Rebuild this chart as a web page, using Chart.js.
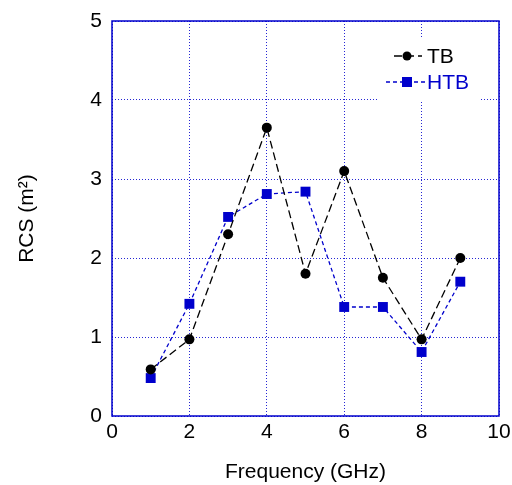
<!DOCTYPE html>
<html>
<head>
<meta charset="utf-8">
<script src="https://cdn.jsdelivr.net/npm/chart.js@4"></script>
<style>
  html, body { margin: 0; padding: 0; background: #fff; }
  #wrap { width: 512px; height: 485px; }
</style>
</head>
<body>
<div id="wrap"><canvas id="rcsChart"></canvas></div>
<script>
// values
const freq = [1, 2, 3, 4, 5, 6, 7, 8, 9];
const tb = [0.59, 0.97, 2.30, 3.65, 1.80, 3.10, 1.75, 0.97, 2.00];
const htb = [0.48, 1.42, 2.52, 2.81, 2.84, 1.38, 1.38, 0.81, 1.70];
const seriesNames = ['TB', 'HTB'];

const blue = 'rgb(0,0,204)';
const font = 'Liberation Sans, Arial, sans-serif';

function points(ys){
    return freq.map((f, i) => ({x: f, y: ys[i]}));
}

// frame round the plot plus the boxed legend in the top right corner
const frameAndLegend = {
    id: 'frameAndLegend',
    afterDraw(chart){
        const ctx = chart.ctx;
        const a = chart.chartArea;
        ctx.save();
        ctx.strokeStyle = blue;
        ctx.lineWidth = 1.5;
        ctx.strokeRect(a.left, a.top, a.right - a.left, a.bottom - a.top);

        ctx.fillStyle = '#fff';
        ctx.fillRect(377, 37, 103, 63);

        ctx.font = '21px ' + font;
        ctx.textBaseline = 'middle';
        // TB
        ctx.strokeStyle = '#000';
        ctx.lineWidth = 1.3;
        ctx.setLineDash([8, 4]);
        ctx.beginPath(); ctx.moveTo(394, 56); ctx.lineTo(422, 56); ctx.stroke();
        ctx.setLineDash([]);
        ctx.fillStyle = '#000';
        ctx.beginPath(); ctx.arc(407, 56, 4.5, 0, Math.PI * 2); ctx.fill();
        ctx.fillText(seriesNames[0], 427, 57);
        // HTB
        ctx.strokeStyle = blue;
        ctx.setLineDash([4, 3]);
        ctx.beginPath(); ctx.moveTo(386, 82); ctx.lineTo(425, 82); ctx.stroke();
        ctx.setLineDash([]);
        ctx.fillStyle = blue;
        ctx.fillRect(402, 77, 10, 10);
        ctx.fillText(seriesNames[1], 427, 83);
        ctx.restore();
    }
};

new Chart(document.getElementById('rcsChart'), {
    type: 'scatter',
    data: {
        datasets: [{
            label: seriesNames[0],
            data: points(tb),
            showLine: true,
            borderColor: '#000',
            backgroundColor: '#000',
            borderWidth: 1.3,
            borderDash: [8, 4],
            pointStyle: 'circle',
            pointRadius: 5,
            pointBorderWidth: 0,
        }, {
            label: seriesNames[1],
            data: points(htb),
            showLine: true,
            borderColor: blue,
            backgroundColor: blue,
            borderWidth: 1.3,
            borderDash: [4, 3],
            pointStyle: 'rect',
            pointRadius: 7,
            pointBorderWidth: 0,
        }]
    },
    options: {
        responsive: true,
        maintainAspectRatio: false,
        animation: false,
        layout: {
            padding: {top: 21, right: 13, left: 0, bottom: 0}
        },
        plugins: {
            legend: {display: false},
            tooltip: {enabled: false}
        },
        scales: {
            x: {
                type: 'linear',
                min: 0,
                max: 10,
                afterFit: (s) => { s.height = 69; s.paddingLeft = 0; s.paddingRight = 0; },
                border: {display: false, dash: [1, 2]},
                grid: {
                    color: 'rgba(0,0,204,0.85)',
                    lineWidth: 1,
                    drawTicks: false
                },
                ticks: {
                    stepSize: 2,
                    padding: 4,
                    color: '#000',
                    font: {family: font, size: 21}
                },
                title: {
                    display: true,
                    text: 'Frequency (GHz)',
                    color: '#000',
                    font: {family: font, size: 21},
                    padding: {top: 0, bottom: 0}
                }
            },
            y: {
                min: 0,
                max: 5,
                afterFit: (s) => { s.width = 112; s.paddingTop = 0; s.paddingBottom = 0; },
                border: {display: false, dash: [1, 2]},
                grid: {
                    color: 'rgba(0,0,204,0.85)',
                    lineWidth: 1,
                    drawTicks: false
                },
                ticks: {
                    stepSize: 1,
                    padding: 10,
                    color: '#000',
                    font: {family: font, size: 21}
                },
                title: {
                    display: true,
                    text: 'RCS (m²)',
                    color: '#000',
                    font: {family: font, size: 21},
                    padding: {top: 15, bottom: 0}
                }
            }
        }
    },
    plugins: [frameAndLegend]
});
</script>
</body>
</html>
